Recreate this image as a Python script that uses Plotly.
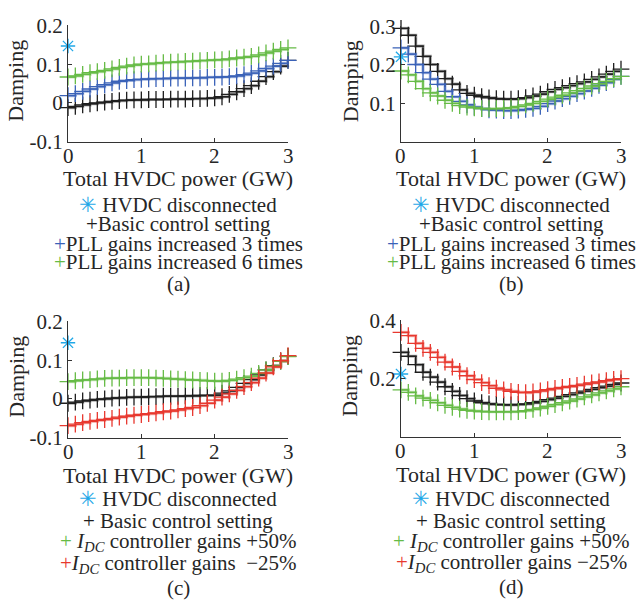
import plotly.graph_objects as go

# Total HVDC power (GW)
power = [0.0, 0.1, 0.2, 0.3, 0.4, 0.5, 0.6, 0.7, 0.8, 0.9, 1.0,
         1.1, 1.2, 1.3, 1.4, 1.5, 1.6, 1.7, 1.8, 1.9, 2.0,
         2.1, 2.2, 2.3, 2.4, 2.5, 2.6, 2.7, 2.8, 2.9, 3.0]

# (a) mode 1, PLL gains
a_basic = [-0.012, -0.009, -0.005, -0.002, 0.000, 0.002, 0.004, 0.006, 0.007, 0.008, 0.008,
           0.009, 0.009, 0.009, 0.010, 0.010, 0.010, 0.011, 0.011, 0.012, 0.013,
           0.016, 0.022, 0.029, 0.037, 0.045, 0.056, 0.068, 0.081, 0.095, 0.110]
a_pll3 = [0.019, 0.024, 0.030, 0.036, 0.042, 0.047, 0.052, 0.056, 0.058, 0.060, 0.061,
          0.062, 0.063, 0.063, 0.064, 0.064, 0.064, 0.065, 0.065, 0.066, 0.066,
          0.067, 0.068, 0.070, 0.073, 0.077, 0.083, 0.089, 0.095, 0.102, 0.110]
a_pll6 = [0.067, 0.070, 0.074, 0.078, 0.081, 0.084, 0.088, 0.092, 0.095, 0.098, 0.100,
          0.101, 0.103, 0.104, 0.105, 0.106, 0.107, 0.108, 0.109, 0.110, 0.111,
          0.112, 0.114, 0.116, 0.118, 0.120, 0.124, 0.129, 0.134, 0.138, 0.142]
a_disc = 0.147

# (b) mode 2, PLL gains
b_basic = [0.295, 0.277, 0.249, 0.222, 0.201, 0.183, 0.164, 0.150, 0.135, 0.126, 0.121,
           0.117, 0.114, 0.112, 0.111, 0.111, 0.112, 0.115, 0.119, 0.124, 0.130,
           0.136, 0.141, 0.146, 0.151, 0.156, 0.162, 0.169, 0.176, 0.183, 0.189]
b_pll3 = [0.244, 0.228, 0.201, 0.180, 0.163, 0.149, 0.131, 0.117, 0.105, 0.096, 0.090,
          0.086, 0.083, 0.082, 0.081, 0.081, 0.082, 0.084, 0.087, 0.092, 0.099,
          0.106, 0.112, 0.118, 0.125, 0.132, 0.139, 0.147, 0.154, 0.162, 0.170]
b_pll6 = [0.184, 0.174, 0.157, 0.138, 0.127, 0.119, 0.108, 0.100, 0.094, 0.090, 0.088,
          0.086, 0.086, 0.086, 0.087, 0.089, 0.092, 0.096, 0.100, 0.105, 0.111,
          0.116, 0.121, 0.127, 0.133, 0.139, 0.145, 0.151, 0.157, 0.164, 0.170]
b_disc = 0.221

# (c) mode 1, I_DC controller gains
c_basic = [-0.011, -0.008, -0.005, -0.003, -0.001, 0.000, 0.002, 0.003, 0.004, 0.005, 0.005,
           0.006, 0.006, 0.007, 0.007, 0.007, 0.008, 0.008, 0.009, 0.009, 0.010,
           0.015, 0.021, 0.030, 0.040, 0.050, 0.062, 0.075, 0.086, 0.098, 0.110]
c_up50 = [0.045, 0.047, 0.049, 0.050, 0.052, 0.053, 0.054, 0.054, 0.055, 0.055, 0.055,
          0.055, 0.054, 0.053, 0.052, 0.051, 0.050, 0.049, 0.048, 0.047, 0.046,
          0.046, 0.048, 0.051, 0.055, 0.059, 0.066, 0.075, 0.085, 0.097, 0.109]
c_dn25 = [-0.069, -0.065, -0.061, -0.058, -0.055, -0.053, -0.050, -0.047, -0.044, -0.042, -0.040,
          -0.038, -0.036, -0.033, -0.031, -0.028, -0.025, -0.022, -0.017, -0.011, -0.003,
          0.005, 0.013, 0.022, 0.032, 0.042, 0.054, 0.067, 0.083, 0.099, 0.112]
c_disc = 0.145

# (d) mode 2, I_DC controller gains
d_basic = [0.290, 0.277, 0.248, 0.222, 0.205, 0.188, 0.172, 0.156, 0.142, 0.131, 0.123,
           0.117, 0.113, 0.111, 0.110, 0.110, 0.111, 0.113, 0.117, 0.122, 0.128,
           0.133, 0.139, 0.145, 0.151, 0.157, 0.163, 0.169, 0.174, 0.180, 0.185]
d_up50 = [0.161, 0.153, 0.141, 0.133, 0.125, 0.117, 0.108, 0.101, 0.095, 0.091, 0.088,
          0.087, 0.086, 0.086, 0.086, 0.086, 0.087, 0.090, 0.094, 0.099, 0.105,
          0.111, 0.117, 0.123, 0.130, 0.137, 0.144, 0.151, 0.158, 0.165, 0.172]
d_dn25 = [0.359, 0.348, 0.321, 0.304, 0.290, 0.273, 0.257, 0.240, 0.225, 0.210, 0.197,
          0.186, 0.176, 0.167, 0.161, 0.156, 0.153, 0.152, 0.154, 0.158, 0.162,
          0.166, 0.170, 0.173, 0.177, 0.181, 0.185, 0.189, 0.193, 0.197, 0.200]
d_disc = 0.216

x_ticks = [0, 1, 2, 3]
y_ticks_a = [-0.1, 0, 0.1, 0.2]
y_ticks_b = [0.1, 0.2, 0.3]
y_ticks_c = [-0.1, 0, 0.1, 0.2]
y_ticks_d = [0.2, 0.4]

BLACK = "#1e1e1e"
BLUE = "#3a62b8"
GREEN = "#66bb46"
RED = "#e8382f"
CYAN = "#1fa8e8"
TEXT = "#262626"
FONT = "Times New Roman, Liberation Serif, DejaVu Serif, serif"

W, H = 639, 616


def px(x):
    return x / W


def py(y):
    return 1 - y / H


fig = go.Figure()


def add_curve(xa, ya, ys, color):
    # faint wide stair under a thin stair gives the doubled-line look
    fig.add_trace(go.Scatter(x=power, y=ys, xaxis=xa, yaxis=ya, mode="lines",
                             line=dict(color=color, width=3.2, shape="hv"),
                             opacity=0.35, hoverinfo="skip", showlegend=False))
    fig.add_trace(go.Scatter(x=power, y=ys, xaxis=xa, yaxis=ya, mode="lines+markers",
                             line=dict(color=color, width=1.2, shape="hv"),
                             marker=dict(symbol="cross-thin-open", size=12, color=color,
                                         line=dict(color=color, width=1.3)),
                             cliponaxis=False, showlegend=False))


def add_disc(xa, ya, val):
    fig.add_trace(go.Scatter(x=[power[0]], y=[val], xaxis=xa, yaxis=ya, mode="markers",
                             marker=dict(symbol="asterisk-open", size=12, color=CYAN,
                                         line=dict(color=CYAN, width=1.3)),
                             cliponaxis=False, showlegend=False))


panels = [
    ("x", "y", [a_basic, a_pll3, a_pll6], [BLACK, BLUE, GREEN], a_disc),
    ("x2", "y2", [b_basic, b_pll3, b_pll6], [BLACK, BLUE, GREEN], b_disc),
    ("x3", "y3", [c_basic, c_up50, c_dn25], [BLACK, GREEN, RED], c_disc),
    ("x4", "y4", [d_basic, d_up50, d_dn25], [BLACK, GREEN, RED], d_disc),
]
for xa, ya, series, colors, disc in panels:
    for ys, col in zip(series, colors):
        add_curve(xa, ya, ys, col)
    add_disc(xa, ya, disc)

# plot boxes in pixels: (left, right, top, bottom)
boxes = [(68, 288, 14, 135), (401, 621, 15, 135), (68, 288, 322, 443), (401, 621, 321, 442)]
yranges = [[-0.1, 0.2], [0.0, 0.3], [-0.1, 0.2], [0.0, 0.4]]
yticks = [y_ticks_a, y_ticks_b, y_ticks_c, y_ticks_d]

axis_common = dict(showline=True, linecolor="#333333", linewidth=1, ticks="inside",
                   ticklen=4, tickcolor="#333333", showgrid=False, zeroline=False,
                   tickfont=dict(family=FONT, size=21, color=TEXT))

layout = dict(width=W, height=H, margin=dict(l=0, r=0, t=0, b=0),
              paper_bgcolor="white", plot_bgcolor="white", showlegend=False,
              font=dict(family=FONT, color=TEXT))
for i, ((l, r, t, b), yr, yt) in enumerate(zip(boxes, yranges, yticks)):
    sfx = "" if i == 0 else str(i + 1)
    # x tick labels are set just under the axis as annotations (below)
    layout["xaxis" + sfx] = dict(domain=[px(l), px(r)], range=[0, 3], tickvals=x_ticks,
                                 showticklabels=False, anchor="y" + sfx, **axis_common)
    layout["yaxis" + sfx] = dict(domain=[py(b), py(t)], range=yr, tickvals=yt,
                                 ticktext=[f"{v:g}" for v in yt],
                                 anchor="x" + sfx, ticklabelstandoff=0, **axis_common)
fig.update_layout(**layout)

ann = []


def text(x, y, s, size=21, angle=0):
    ann.append(dict(x=px(x), y=py(y), xref="paper", yref="paper", text=s, showarrow=False,
                    xanchor="center", yanchor="middle", textangle=angle,
                    font=dict(family=FONT, size=size, color=TEXT)))


def sym(color, ch="+"):
    return f'<span style="color:{color}">{ch}</span>'


star = sym(CYAN, "✳")
idc = "<i>I</i><sub><i>DC</i></sub>"

legends = [
    [star + " HVDC disconnected", sym(BLACK) + "Basic control setting",
     sym(BLUE) + "PLL gains increased 3 times", sym(GREEN) + "PLL gains increased 6 times"],
    [star + " HVDC disconnected", sym(BLACK) + "Basic control setting",
     sym(BLUE) + "PLL gains increased 3 times", sym(GREEN) + "PLL gains increased 6 times"],
    [star + " HVDC disconnected", sym(BLACK) + " Basic control setting",
     sym(GREEN) + " " + idc + " controller gains +50%", sym(RED) + idc + " controller gains  −25%"],
    [star + " HVDC disconnected", sym(BLACK) + " Basic control setting",
     sym(GREEN) + " " + idc + " controller gains +50%", sym(RED) + idc + " controller gains −25%"],
]
captions = ["(a)", "(b)", "(c)", "(d)"]
legend_rows = [[201, 221, 241, 260, 283], [201, 221, 241, 260, 283],
               [507, 530, 552, 574, 599], [507, 530, 552, 573, 598]]
xtitle_y = [173, 173, 482, 481]
ytitle_x = [16, 350, 17, 350]

for i, (l, r, t, b) in enumerate(boxes):
    sfx = "" if i == 0 else str(i + 1)
    cx = (l + r) / 2
    for v in x_ticks:
        ann.append(dict(x=v, xref="x" + sfx, y=py(b + 15), yref="paper", text=f"{v:g}",
                        showarrow=False, xanchor="center", yanchor="middle",
                        font=dict(family=FONT, size=21, color=TEXT)))
    text(cx, xtitle_y[i], "Total HVDC power (GW)", size=22)
    text(ytitle_x[i], (t + b) / 2 - 3, "Damping", size=22, angle=-90)
    rows = legend_rows[i]
    for s, yy in zip(legends[i], rows[:4]):
        text(cx, yy, s)
    text(cx, rows[4], captions[i])

fig.update_layout(annotations=ann)
fig.write_html("out.html")
